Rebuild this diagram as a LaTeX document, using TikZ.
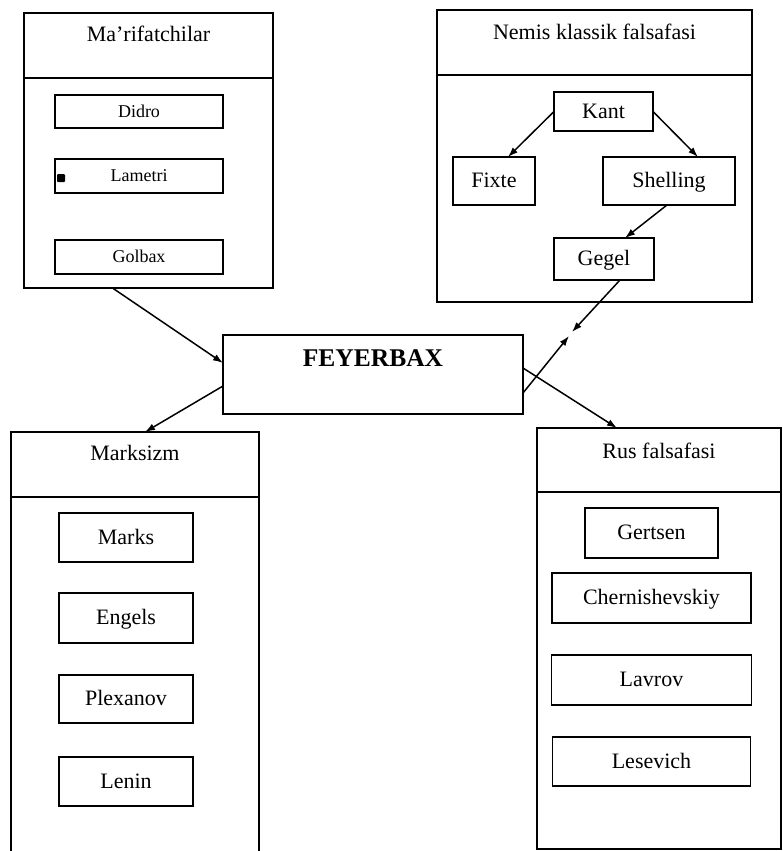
\documentclass[tikz,border=0pt]{standalone}
\usepackage{fontspec}
\setmainfont{Liberation Serif}
\usetikzlibrary{arrows.meta, positioning}

\begin{document}
\begin{tikzpicture}[x=1pt, y=-1pt,
			every node/.style={font=\fontsize{22}{26}\selectfont},
			grp/.style={draw, line width=1.3pt, inner sep=0pt, outer sep=0pt},
			ttl/.style={inner sep=0pt},
			box/.style={draw, line width=1.2pt, inner sep=0pt, outer sep=0pt,
				align=center, text height=16pt, text depth=3pt},
			smallbox/.style={box, font=\fontsize{18}{22}\selectfont,
				text height=13.5pt, text depth=2pt},
			arr/.style={-{Latex[length=10pt, width=7pt]}, line width=1.5pt},
			]
			\useasboundingbox (0,0) rectangle (783,851);
			% =============================================================
			%  GROUP FRAMES
			% =============================================================
			\node[grp, minimum width=249pt, minimum height=275pt] (grpmarif)
			at (148.5,150.5) {};
			\node[grp, minimum width=315pt, minimum height=292pt] (grpnemis)
			at (594.5,156) {};
			\node[grp, minimum width=248pt, minimum height=421pt] (grpmarx)
			at (135,642.5) {};
			\node[grp, minimum width=244pt, minimum height=421pt] (grprus)
			at (659,638.5) {};

			% --- header lines and titles ---
			\draw[line width=1.3pt] ([yshift=-65pt]grpmarif.north west)
			-- ([yshift=-65pt]grpmarif.north east);
			\draw[line width=1.3pt] ([yshift=-65pt]grpnemis.north west)
			-- ([yshift=-65pt]grpnemis.north east);
			\draw[line width=1.3pt] ([yshift=-65pt]grpmarx.north west)
			-- ([yshift=-65pt]grpmarx.north east);
			\draw[line width=1.3pt] ([yshift=-64pt]grprus.north west)
			-- ([yshift=-64pt]grprus.north east);

			\node[ttl] (marift) at ([yshift=-21pt]grpmarif.north) {Ma’rifatchilar};
			\node[ttl] (nemist) at ([yshift=-22pt]grpnemis.north) {Nemis klassik falsafasi};
			\node[ttl] (marxt) at ([yshift=-21pt]grpmarx.north) {Marksizm};
			\node[ttl] (rust) at ([yshift=-23pt]grprus.north) {Rus falsafasi};

			% =============================================================
			%  CENTRE
			% =============================================================
			\node[box, line width=1.3pt, minimum width=300pt, minimum height=79pt,
			font=\fontsize{25.5}{30}\selectfont\bfseries,
			text height=18pt, text depth=34pt] (fey)
			at (373,374.5) {FEYERBAX};

			% --- Ma'rifatchilar ---
			\node[smallbox, minimum width=168pt, minimum height=33pt] (didro)
			at (139,111.5) {Didro};
			\node[smallbox, minimum width=168pt, minimum height=34pt,
			below=31pt of didro] (lametri) {Lametri};
			\node[smallbox, minimum width=168pt, minimum height=34pt,
			below=47pt of lametri] (golbax) {Golbax};
			\fill[rounded corners=1pt] ([xshift=2pt, yshift=2pt]lametri.west)
			rectangle ++(8,8);

			% --- Nemis klassik falsafasi ---
			\node[box, minimum width=99pt, minimum height=39pt] (kant)
			at (603.5,111.5) {Kant};
			\node[box, minimum width=82pt, minimum height=48pt] (fixte)
			at (494,181) {Fixte};
			\node[box, minimum width=132pt, minimum height=48pt,
			right=68pt of fixte] (shelling) {Shelling};
			\node[box, minimum width=100pt, minimum height=42pt] (gegel)
			at (604,259) {Gegel};

			% --- Marksizm ---
			\node[box, minimum width=134pt, minimum height=49pt] (marks)
			at (126,537.5) {Marks};
			\node[box, minimum width=134pt, minimum height=50pt,
			below=31pt of marks] (engels) {Engels};
			\node[box, minimum width=134pt, minimum height=48pt,
			below=32pt of engels] (plexanov) {Plexanov};
			\node[box, minimum width=134pt, minimum height=49pt,
			below=34pt of plexanov] (lenin) {Lenin};

			% --- Rus falsafasi ---
			\node[box, minimum width=133pt, minimum height=50pt] (gertsen)
			at (651.5,533) {Gertsen};
			\node[box, minimum width=199pt, minimum height=50pt,
			below=15pt of gertsen] (chern) {Chernishevskiy};
			\node[box, minimum width=200pt, minimum height=50pt,
			below=32pt of chern] (lavrov) {Lavrov};
			\node[box, minimum width=198pt, minimum height=49pt,
			below=32pt of lavrov] (lesevich) {Lesevich};

			% ---- ARROWS ----
			\draw[arr] (kant.west) -- ([xshift=14pt]fixte.north);
			\draw[arr] (kant.east) -- ([xshift=29pt]shelling.north);
			\draw[arr] ([xshift=-2pt]shelling.south) -- ([xshift=21pt]gegel.north);

			\coordinate (gegtip) at (572,332);
			\coordinate (feytip) at (569,336);
			\draw[arr] ([xshift=16pt]gegel.south) -- (gegtip);
			\draw[arr] ([yshift=-18.5pt]fey.east) -- (feytip);

			\draw[arr] ([xshift=-36pt]grpmarif.south) -- ([yshift=11.5pt]fey.west);
			\draw[arr] ([yshift=-11.5pt]fey.west) -- ([xshift=10pt]grpmarx.north);
			\draw[arr] ([yshift=6.5pt]fey.east) -- ([xshift=-42pt]grprus.north);
		\end{tikzpicture}
\end{document}
